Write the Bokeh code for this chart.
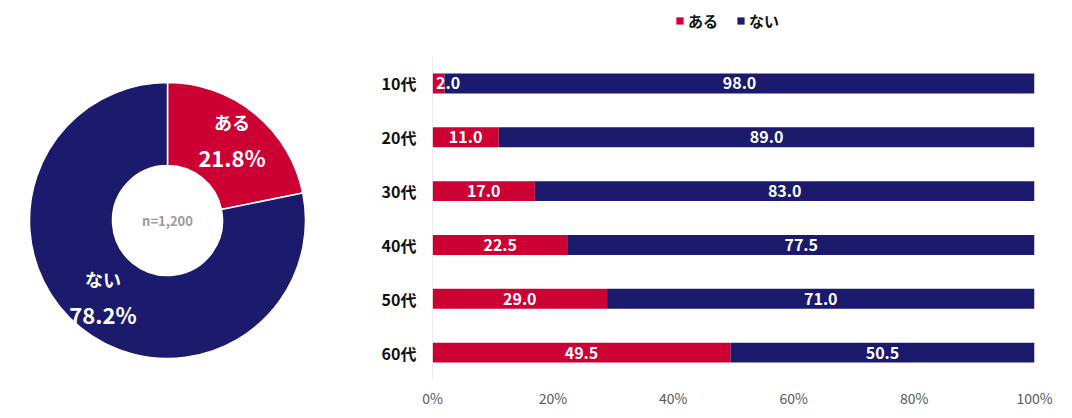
import math
from bokeh.plotting import figure
from bokeh.layouts import row
from bokeh.models import ColumnDataSource, Legend, LegendItem, FixedTicker
from bokeh.core.properties import value
from bokeh.embed import file_html
from bokeh.resources import INLINE

FONT = "Noto Sans CJK JP"
RED = "#CC0033"
NAVY = "#1B1A6C"

# ---- data ----
pie_labels = ["ある", "ない"]
pie_values = [21.8, 78.2]
sample_note = "n=1,200"

ages = ["10代", "20代", "30代", "40代", "50代", "60代"]
aru = [2.0, 11.0, 17.0, 22.5, 29.0, 49.5]
nai = [98.0, 89.0, 83.0, 77.5, 71.0, 50.5]
series_names = ["ある", "ない"]
x_ticks = [0, 20, 40, 60, 80, 100]

# ---- donut ----
W1, H = 348, 410
p1 = figure(title=None, frame_width=W1, frame_height=H, x_range=(0, W1), y_range=(0, H),
            output_backend="svg", toolbar_location=None, min_border=0)
p1.axis.visible = False
p1.grid.visible = False
p1.outline_line_color = None
cx, cy = 167, H - 220
r_out, r_in = 138, 55
total = sum(pie_values)
starts, ends, mids = [], [], []
a = 90.0
for v in pie_values:
    sweep = v / total * 360
    starts.append(math.radians(a))
    ends.append(math.radians(a - sweep))
    mids.append(math.radians(a - sweep / 2))
    a -= sweep
src = ColumnDataSource(dict(x=[cx] * 2, y=[cy] * 2, s=starts, e=ends, c=[RED, NAVY]))
p1.annular_wedge(x="x", y="y", inner_radius=r_in, outer_radius=r_out, start_angle="s",
                 end_angle="e", direction="clock", fill_color="c", line_color="white",
                 line_width=1.5, source=src)
r_lab = 102
for lab, v, m in zip(pie_labels, pie_values, mids):
    lx = cx + r_lab * math.cos(m)
    ly = cy + r_lab * math.sin(m)
    p1.text(x=[lx], y=[ly + 20], text=[lab], text_align="center", text_baseline="middle",
            text_color="white", text_font=value(FONT), text_font_style="bold",
            text_font_size="18px")
    p1.text(x=[lx], y=[ly - 15], text=[f"{v:.1f}%"], text_align="center",
            text_baseline="middle", text_color="white", text_font=value(FONT),
            text_font_style="bold", text_font_size="22px")
p1.text(x=[cx], y=[cy], text=[sample_note], text_align="center", text_baseline="middle",
        text_color="#9a9a9a", text_font=value(FONT), text_font_style="bold",
        text_font_size="13px")

# ---- bars ----
n = len(ages)
band_px = 53.83
frame_h = 379
extra = frame_h / band_px - n          # room above the bars for the legend
ypos = [n - 1 - i for i in range(n)]   # 10代 on top
p2 = figure(title=None, frame_width=602, frame_height=frame_h,
            y_range=(-0.5, n - 0.5 + extra), x_range=(0, 100),
            output_backend="svg", toolbar_location=None,
            min_border_left=84, min_border_right=30, min_border_top=0, min_border_bottom=31)
p2.outline_line_color = None
p2.grid.visible = False
bsrc = ColumnDataSource(dict(y=ypos, aru=aru, nai=nai))
rs = p2.hbar_stack(["aru", "nai"], y="y", height=0.37, color=[RED, NAVY],
                   line_color=None, source=bsrc)

# category axis line
p2.segment(x0=[0], y0=[-0.5], x1=[0], y1=[n - 0.5], line_color="#d9d9d9", line_width=1)

# data labels
lx, ly, lt = [], [], []
for yy, a1, n1 in zip(ypos, aru, nai):
    lx.append(max(a1 / 2, 2.6)); ly.append(yy); lt.append(f"{a1:.1f}")
    lx.append(a1 + n1 / 2); ly.append(yy); lt.append(f"{n1:.1f}")
p2.text(x=lx, y=ly, text=lt, text_align="center", text_baseline="middle",
        text_color="white", text_font=value(FONT), text_font_style="bold",
        text_font_size="16px")

p2.xaxis.ticker = FixedTicker(ticks=x_ticks)
p2.xaxis.major_label_overrides = {t: f"{t}%" for t in x_ticks}
p2.xaxis.axis_line_color = None
p2.xaxis.major_tick_line_color = None
p2.xaxis.minor_tick_line_color = None
p2.xaxis.major_tick_out = 0
p2.xaxis.minor_tick_out = 0
p2.xaxis.major_label_text_font = FONT
p2.xaxis.major_label_text_font_size = "14px"
p2.xaxis.major_label_text_color = "#595959"
p2.xaxis.major_label_standoff = 8

p2.yaxis.ticker = FixedTicker(ticks=ypos)
p2.yaxis.major_label_overrides = {yy: g for yy, g in zip(ypos, ages)}
p2.yaxis.axis_line_color = None
p2.yaxis.major_tick_line_color = None
p2.yaxis.minor_tick_line_color = None
p2.yaxis.major_tick_out = 0
p2.yaxis.minor_tick_out = 0
p2.yaxis.major_label_text_font = FONT
p2.yaxis.major_label_text_font_size = "16px"
p2.yaxis.major_label_text_font_style = "bold"
p2.yaxis.major_label_text_color = "#111111"
p2.yaxis.major_label_standoff = 16

legend = Legend(items=[LegendItem(label=series_names[i], renderers=[rs[i]]) for i in range(2)],
                orientation="horizontal", location=(243, frame_h - 31), border_line_color=None,
                background_fill_alpha=0, glyph_width=9, glyph_height=9, spacing=18,
                label_text_font=FONT, label_text_font_size="15px",
                label_text_font_style="bold", label_text_color="#111111",
                label_standoff=4, padding=0, margin=0)
p2.add_layout(legend, "center")

layout = row(p1, p2)
open("out.html", "w").write(file_html(layout, INLINE))
